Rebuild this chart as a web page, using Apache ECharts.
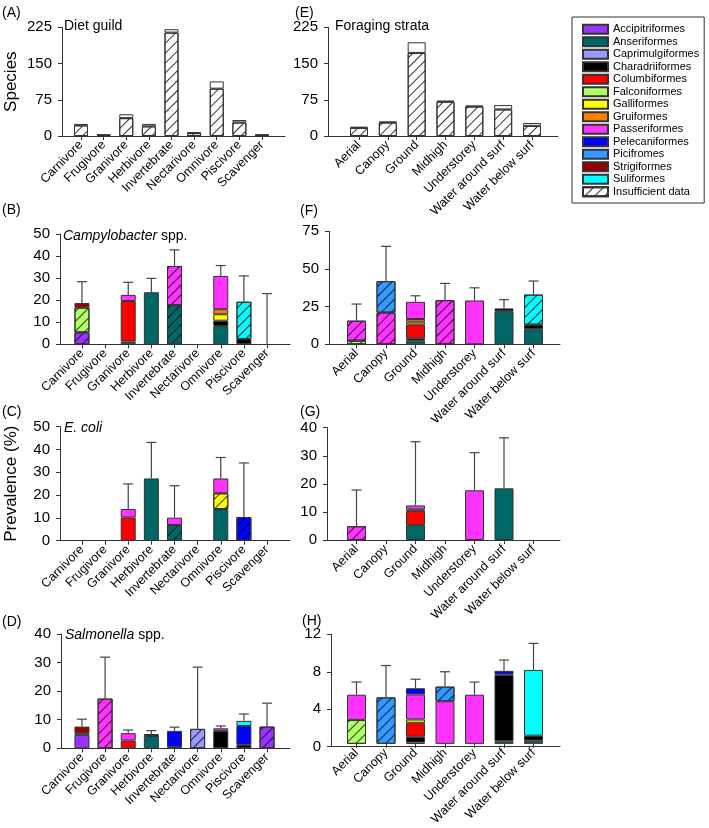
<!DOCTYPE html>
<html>
<head>
<meta charset="utf-8">
<script src="https://cdn.jsdelivr.net/npm/echarts@6/dist/echarts.min.js"></script>
<style>
html, body { margin: 0; padding: 0; background: #fff; }
#chart { width: 709px; height: 828px; }
</style>
</head>
<body>
<div id="chart"></div>
<script>
// categories
const DIET = ['Carnivore', 'Frugivore', 'Granivore', 'Herbivore', 'Invertebrate', 'Nectarivore', 'Omnivore', 'Piscivore', 'Scavenger'];
const STRATA = ['Aerial', 'Canopy', 'Ground', 'Midhigh', 'Understorey', 'Water around surf', 'Water below surf'];
const ORDERS = ['Accipitriformes', 'Anseriformes', 'Caprimulgiformes', 'Charadriiformes', 'Columbiformes', 'Falconiformes',
  'Galliformes', 'Gruiformes', 'Passeriformes', 'Pelecaniformes', 'Picifromes', 'Strigiformes', 'Suliformes'];
const ORDER_COLORS = ['#9933ff', '#006666', '#9999ff', '#000000', '#ff0000', '#b0ff66',
  '#ffff00', '#ff8000', '#ff33ff', '#0000ff', '#3399ff', '#990000', '#00ffff'];

// species counts (A, E)
const speciesDietInsufficient = [22, 2, 37, 20, 214, 6, 98, 28, 2];
const speciesDietWithData = [3, 1, 8, 5, 7, 2, 15, 5, 1];
const speciesStrataInsufficient = [17, 28, 172, 71, 61, 55, 21];
const speciesStrataWithData = [2, 2, 22, 2, 2, 9, 6];

// prevalence segments: [order, values per category, hatched category indices]
const campyDiet = [
  ['Accipitriformes', [5.4, 0, 0, 0, 0, 0, 0, 0, 0], [0]],
  ['Anseriformes', [0, 0, 1.2, 23.6, 17.7, 0, 8.3, 0, 0], [4]],
  ['Charadriiformes', [0, 0, 0, 0, 0, 0, 2.4, 2.4, 0], []],
  ['Columbiformes', [0, 0, 18.4, 0, 0, 0, 0, 0, 0], []],
  ['Falconiformes', [11.2, 0, 0, 0, 0, 0, 0, 0, 0], [0]],
  ['Galliformes', [0, 0, 0, 0, 0, 0, 2.9, 0, 0], []],
  ['Gruiformes', [0, 0, 0, 0, 0, 0, 2.3, 0, 0], []],
  ['Passeriformes', [0, 0, 2.8, 0, 17.8, 0, 15.1, 0, 0], [4]],
  ['Strigiformes', [2.1, 0, 0, 0, 0, 0, 0, 0, 0], []],
  ['Suliformes', [0, 0, 0, 0, 0, 0, 0, 16.9, 0], [7]]
];
const campyDietErr = [28.4, null, 28.1, 29.9, 42.8, null, 35.7, 31, 23];

const campyStrata = [
  ['Anseriformes', [0, 0, 2.4, 0, 0, 22, 10], []],
  ['Charadriiformes', [0, 0, 1.6, 0, 0, 1.8, 3], []],
  ['Columbiformes', [0, 0, 9.2, 0, 0, 0, 0], []],
  ['Falconiformes', [2.4, 0, 0, 0, 0, 0, 0], [0]],
  ['Galliformes', [0, 0, 1.8, 0, 0, 0, 0], []],
  ['Gruiformes', [0, 0, 1.8, 0, 0, 0, 0], []],
  ['Passeriformes', [13.3, 21, 11.4, 29.3, 29.1, 0, 0], [0, 1, 3]],
  ['Picifromes', [0, 20.9, 0, 0, 0, 0, 0], [1]],
  ['Suliformes', [0, 0, 0, 0, 0, 0, 20], [6]]
];
const campyStrataErr = [26.7, 65, 32.2, 40.4, 37.5, 29.6, 42];

const ecoliDiet = [
  ['Anseriformes', [0, 0, 0, 27.3, 6.9, 0, 13.9, 0, 0], [4]],
  ['Columbiformes', [0, 0, 10.2, 0, 0, 0, 0, 0, 0], []],
  ['Galliformes', [0, 0, 0, 0, 0, 0, 6.9, 0, 0], [6]],
  ['Passeriformes', [0, 0, 3.7, 0, 3.2, 0, 6.5, 0, 0], []],
  ['Pelecaniformes', [0, 0, 0, 0, 0, 0, 0, 10.4, 0], [7]]
];
const ecoliDietErr = [null, null, 24.9, 43.1, 24.1, null, 36.5, 34.1, null];

const ecoliStrata = [
  ['Anseriformes', [0, 0, 5.3, 0, 0, 18.4, 0], []],
  ['Columbiformes', [0, 0, 5.1, 0, 0, 0, 0], []],
  ['Galliformes', [0, 0, 0.5, 0, 0, 0, 0], []],
  ['Passeriformes', [4.9, 0, 1.4, 0, 17.7, 0, 0], [0]]
];
const ecoliStrataErr = [17.8, null, 35, null, 31.1, 36.4, null];

const salmDiet = [
  ['Accipitriformes', [4.7, 0, 0, 0, 0, 0, 0, 0, 7.6], [8]],
  ['Anseriformes', [0, 0, 0, 4.3, 0, 0, 0, 0, 0], []],
  ['Caprimulgiformes', [0, 0, 0, 0, 0, 6.8, 0, 0, 0], [5]],
  ['Charadriiformes', [0, 0, 0, 0, 0, 0, 6.1, 1.2, 0], []],
  ['Columbiformes', [0, 0, 2.7, 0, 0, 0, 0, 0, 0], []],
  ['Falconiformes', [0.6, 0, 0, 0, 0, 0, 0, 0, 0], []],
  ['Passeriformes', [0, 17.4, 2.6, 0.7, 0.4, 0, 0.9, 0, 0], [1]],
  ['Pelecaniformes', [0, 0, 0, 0, 5.7, 0, 0, 6.6, 0], []],
  ['Strigiformes', [2.3, 0, 0, 0, 0, 0, 0, 0, 0], []],
  ['Suliformes', [0, 0, 0, 0, 0, 0, 0, 1.8, 0], []]
];
const salmDietErr = [10.2, 31.9, 6.4, 6.2, 7.4, 28.4, 7.8, 12, 15.8];

const salmStrata = [
  ['Accipitriformes', [0, 0, 0.15, 0, 0, 0, 0], []],
  ['Anseriformes', [0, 0, 0, 0, 0, 0.28, 0.35], []],
  ['Charadriiformes', [0, 0, 0.63, 0, 0, 7.3, 0.55], []],
  ['Columbiformes', [0, 0, 1.53, 0, 0, 0, 0], []],
  ['Falconiformes', [2.63, 0, 0, 0, 0, 0, 0], [0]],
  ['Galliformes', [0, 0, 0.36, 0, 0, 0, 0], []],
  ['Passeriformes', [2.75, 0, 2.74, 4.66, 5.38, 0, 0], []],
  ['Pelecaniformes', [0, 0, 0.68, 0, 0, 0.42, 0], []],
  ['Picifromes', [0, 5.09, 0, 1.61, 0, 0, 0], [1, 3]],
  ['Suliformes', [0, 0, 0, 0, 0, 0, 7.2], []]
];
const salmStrataErr = [6.77, 8.58, 7.08, 7.9, 6.77, 9.18, 11];

const FONT = '"Liberation Sans", Arial, sans-serif';
const AX = '#333';
const HATCH = { symbol: 'rect', symbolSize: 1, dashArrayX: [1, 0], dashArrayY: [1, 6], rotation: -Math.PI / 4, color: 'rgba(0,0,0,0.8)' };

const grid = [], xAxis = [], yAxis = [], series = [];

function errRender(params, api) {
  const x = api.value(0), lo = api.value(1), hi = api.value(2);
  const a = api.coord([x, lo]), b = api.coord([x, hi]);
  const st = { stroke: '#444', lineWidth: 1.2 };
  return {
    type: 'group', children: [
      { type: 'line', shape: { x1: a[0], y1: a[1], x2: b[0], y2: b[1] }, style: st },
      { type: 'line', shape: { x1: b[0] - 5, y1: b[1], x2: b[0] + 5, y2: b[1] }, style: st }
    ]
  };
}

function addPanel(p) {
  const gi = grid.length;
  const h = p.bottom - p.top;
  // outer grid carries the visible axis lines, inner grid carries the bars
  grid.push({ left: p.x0, top: p.top, width: p.x1 - p.x0, height: h });
  grid.push({ left: p.in0, top: p.top, width: p.in1 - p.in0, height: h });
  xAxis.push({ gridIndex: gi, type: 'value', min: 0, max: 1, axisLine: { show: true, lineStyle: { color: AX } },
    axisTick: { show: false }, axisLabel: { show: false }, splitLine: { show: false } });
  xAxis.push({ gridIndex: gi + 1, type: 'category', data: p.cats, axisLine: { show: false },
    axisTick: { show: true, alignWithLabel: true, length: 4, lineStyle: { color: AX } },
    axisLabel: { rotate: 45, interval: 0, fontSize: 12.5, color: '#000', margin: 7, fontFamily: FONT } });
  yAxis.push({ gridIndex: gi, type: 'value', min: 0, max: p.max, interval: p.step,
    axisLine: { show: true, lineStyle: { color: AX } }, axisTick: { show: true, length: 4, lineStyle: { color: AX } },
    axisLabel: { fontSize: 15, color: '#000', margin: 10, fontFamily: FONT }, splitLine: { show: false },
    name: p.yName || '', nameLocation: 'middle', nameGap: p.nameGap || 0,
    nameTextStyle: { fontSize: 17, color: '#000', fontFamily: FONT } });
  yAxis.push({ gridIndex: gi + 1, type: 'value', min: 0, max: p.max, show: false });
  const ai = gi + 1;
  const base = p.cats.map(() => 0);

  if (p.species) {
    series.push({ type: 'bar', name: 'Insufficient data', xAxisIndex: ai, yAxisIndex: ai, stack: 's' + gi, barWidth: p.barW,
      itemStyle: { color: '#fff', borderColor: AX, borderWidth: 1, decal: HATCH }, data: p.species[0] });
    series.push({ type: 'bar', name: 'With data', xAxisIndex: ai, yAxisIndex: ai, stack: 's' + gi, barWidth: p.barW,
      itemStyle: { color: '#fff', borderColor: AX, borderWidth: 1 }, data: p.species[1] });
    return;
  }
  p.rows.forEach(([name, vals, hatched]) => {
    vals.forEach((v, i) => { base[i] += v; });
    series.push({
      type: 'bar', name, xAxisIndex: ai, yAxisIndex: ai, stack: 's' + gi, barWidth: p.barW,
      itemStyle: { color: ORDER_COLORS[ORDERS.indexOf(name)], borderColor: AX, borderWidth: 1 },
      data: vals.map((v, i) => !v ? '-' : (hatched.includes(i) ? { value: v, itemStyle: { decal: HATCH } } : v))
    });
  });
  const errData = [];
  p.err.forEach((e, i) => { if (e != null) errData.push([i, base[i], e]); });
  series.push({ type: 'custom', xAxisIndex: ai, yAxisIndex: ai, z: 5, silent: true,
    renderItem: errRender, encode: { x: 0, y: [1, 2] }, data: errData });
}

const L = { x0: 60, x1: 290, in0: 70.4, in1: 278.6, cats: DIET, barW: 15 };
const R = { x0: 329, x1: 560, in0: 341.75, in1: 548.25, cats: STRATA, barW: 19 };

addPanel({ x0: 62, x1: 285, in0: 69.7, in1: 273.3, cats: DIET, barW: 14, top: 27.3, bottom: 136, max: 225, step: 75,
  species: [speciesDietInsufficient, speciesDietWithData], yName: 'Species', nameGap: 42 });
addPanel({ x0: 328, x1: 558, in0: 344.6, in1: 546.4, cats: STRATA, barW: 18, top: 27.3, bottom: 136, max: 225, step: 75,
  species: [speciesStrataInsufficient, speciesStrataWithData] });
addPanel(Object.assign({}, L, { top: 234, bottom: 344.3, max: 50, step: 10, rows: campyDiet, err: campyDietErr }));
addPanel(Object.assign({}, R, { top: 231.3, bottom: 344.3, max: 75, step: 25, rows: campyStrata, err: campyStrataErr }));
addPanel(Object.assign({}, L, { top: 426.7, bottom: 540.7, max: 50, step: 10, rows: ecoliDiet, err: ecoliDietErr,
  yName: 'Prevalence (%)', nameGap: 40 }));
addPanel(Object.assign({}, R, { x0: 327, top: 427.7, bottom: 540, max: 40, step: 10, rows: ecoliStrata, err: ecoliStrataErr }));
addPanel(Object.assign({}, L, { x0: 61, top: 634, bottom: 748.3, max: 40, step: 10, rows: salmDiet, err: salmDietErr }));
addPanel(Object.assign({}, R, { x0: 331, top: 634.3, bottom: 746.7, max: 12, step: 4, rows: salmStrata, err: salmStrataErr }));

const TS = { fontSize: 14, fontWeight: 'normal', color: '#000', fontFamily: FONT, rich: { i: { fontStyle: 'italic', fontSize: 14, fontFamily: FONT, color: '#000' } } };
const title = [
  ['(A)', 2, 6], ['Diet guild', 64, 19.5], ['(E)', 295, 6], ['Foraging strata', 335, 19.5],
  ['(B)', 2, 203], ['{i|Campylobacter} spp.', 63, 229], ['(F)', 300, 204],
  ['(C)', 2, 405], ['{i|E. coli}', 64, 421], ['(G)', 300, 405],
  ['(D)', 2, 615], ['{i|Salmonella} spp.', 65, 628], ['(H)', 302, 614]
].map(([text, left, top]) => ({ text, left, top, padding: 0, textStyle: TS }));

const chart = echarts.init(document.getElementById('chart'), null, { renderer: 'canvas' });
chart.setOption({
  animation: false,
  backgroundColor: '#fff',
  title,
  legend: {
    data: ORDERS.concat(['Insufficient data']), orient: 'vertical', left: 572, top: 17,
    padding: [6, 5, 5, 10], itemWidth: 25, itemHeight: 9, itemGap: 0, icon: 'rect',
    borderColor: '#333', borderWidth: 1, selectedMode: false,
    textStyle: { fontSize: 11, color: '#000', fontFamily: FONT, lineHeight: 12.5 }
  },
  grid, xAxis, yAxis, series
});
</script>
</body>
</html>
